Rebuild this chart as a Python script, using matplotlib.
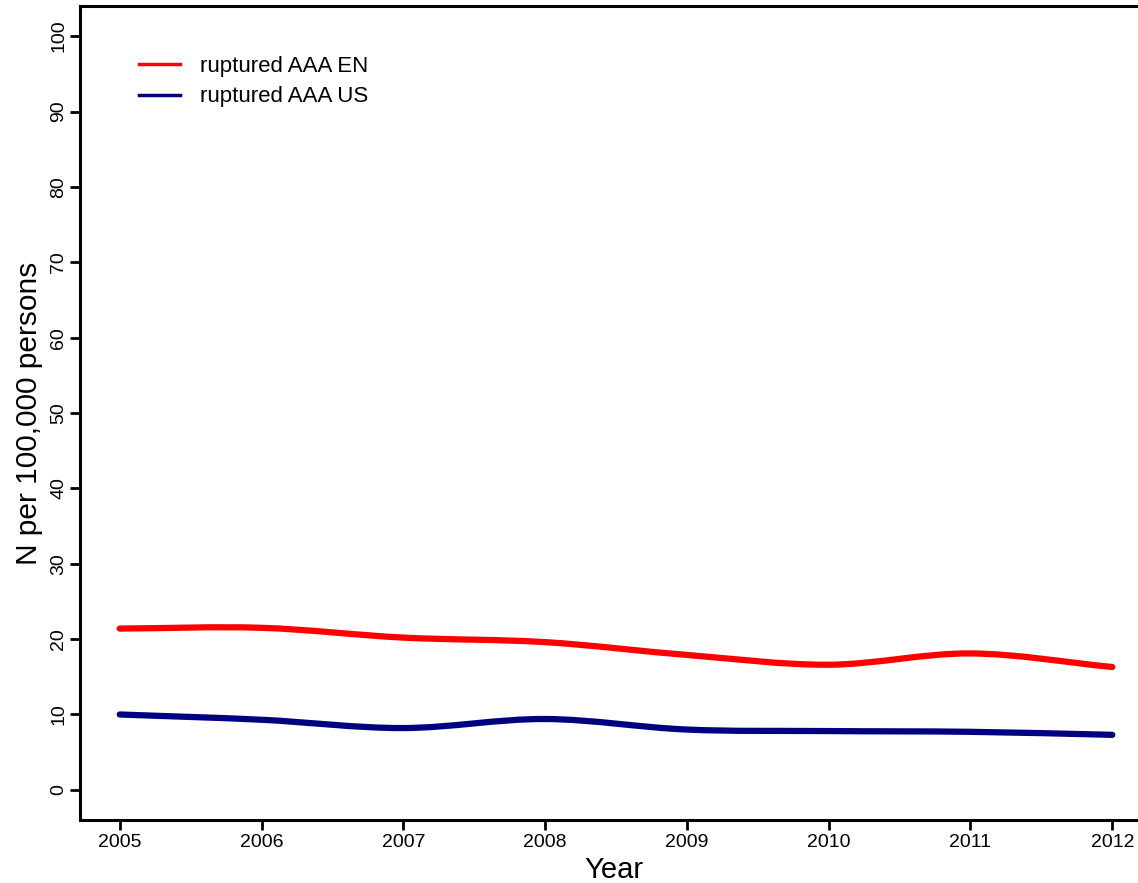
import matplotlib
matplotlib.use("Agg")
import matplotlib.pyplot as plt
import numpy as np
from matplotlib.path import Path
from matplotlib.patches import PathPatch
from matplotlib.lines import Line2D

plt.rcParams['font.family'] = ['Liberation Sans', 'DejaVu Sans']

years = [2005, 2006, 2007, 2008, 2009, 2010, 2011, 2012]
rupt_en = [21.4, 21.5, 20.2, 19.6, 17.9, 16.6, 18.1, 16.3]
rupt_us = [10.0, 9.3, 8.2, 9.4, 8.0, 7.8, 7.7, 7.3]
labels = ['ruptured AAA EN', 'ruptured AAA US']
colors = ['#ff0000', '#000080']


def smooth_path(x, y):
    # Catmull-Rom through the points, written as cubic Bezier segments
    x = np.asarray(x, float)
    y = np.asarray(y, float)
    px = np.concatenate([[2 * x[0] - x[1]], x, [2 * x[-1] - x[-2]]])
    py = np.concatenate([[2 * y[0] - y[1]], y, [2 * y[-1] - y[-2]]])
    verts = [(x[0], y[0])]
    codes = [Path.MOVETO]
    for i in range(1, len(px) - 2):
        c1 = (px[i] + (px[i + 1] - px[i - 1]) / 6, py[i] + (py[i + 1] - py[i - 1]) / 6)
        c2 = (px[i + 1] - (px[i + 2] - px[i]) / 6, py[i + 1] - (py[i + 2] - py[i]) / 6)
        verts += [c1, c2, (px[i + 1], py[i + 1])]
        codes += [Path.CURVE4] * 3
    return Path(verts, codes)


fig = plt.figure(figsize=(11.38, 8.83), dpi=100)
# right edge of the box runs past the figure, as in the exported plot
ax = fig.add_axes([80 / 1138, 1 - 820 / 883, 1072 / 1138, 814 / 883])

for ys, col in zip([rupt_en, rupt_us], colors):
    ax.add_patch(PathPatch(smooth_path(years, ys), facecolor='none',
                           edgecolor=col, lw=4.5, capstyle='round'))

ax.set_xlim(2004.72, 2012.28)
ax.set_ylim(-4, 104)
ax.set_xticks(years)
ax.set_yticks(np.arange(0, 101, 10))
ax.tick_params(direction='out', length=7, width=2, labelsize=14)
ax.tick_params(axis='x', pad=3)
ax.tick_params(axis='y', pad=2)
for lab in ax.get_yticklabels():
    lab.set_rotation(90)
    lab.set_va('center')
for sp in ax.spines.values():
    sp.set_linewidth(2.2)

ax.set_xlabel('Year', fontsize=21, va='center')
ax.xaxis.set_label_coords(0.498, -0.061)
ax.set_ylabel('N per 100,000 persons', fontsize=21.5, va='center')
ax.yaxis.set_label_coords(-0.048, 0.5)

handles = [Line2D([], [], color=c, lw=2.5) for c in colors]
ax.legend(handles, labels, loc='upper left', bbox_to_anchor=(0.055, 0.939),
          frameon=False, fontsize=16, handlelength=1.85, handletextpad=0.9,
          labelspacing=0.44, borderpad=0, borderaxespad=0)

fig.savefig('out.png', dpi=100)
